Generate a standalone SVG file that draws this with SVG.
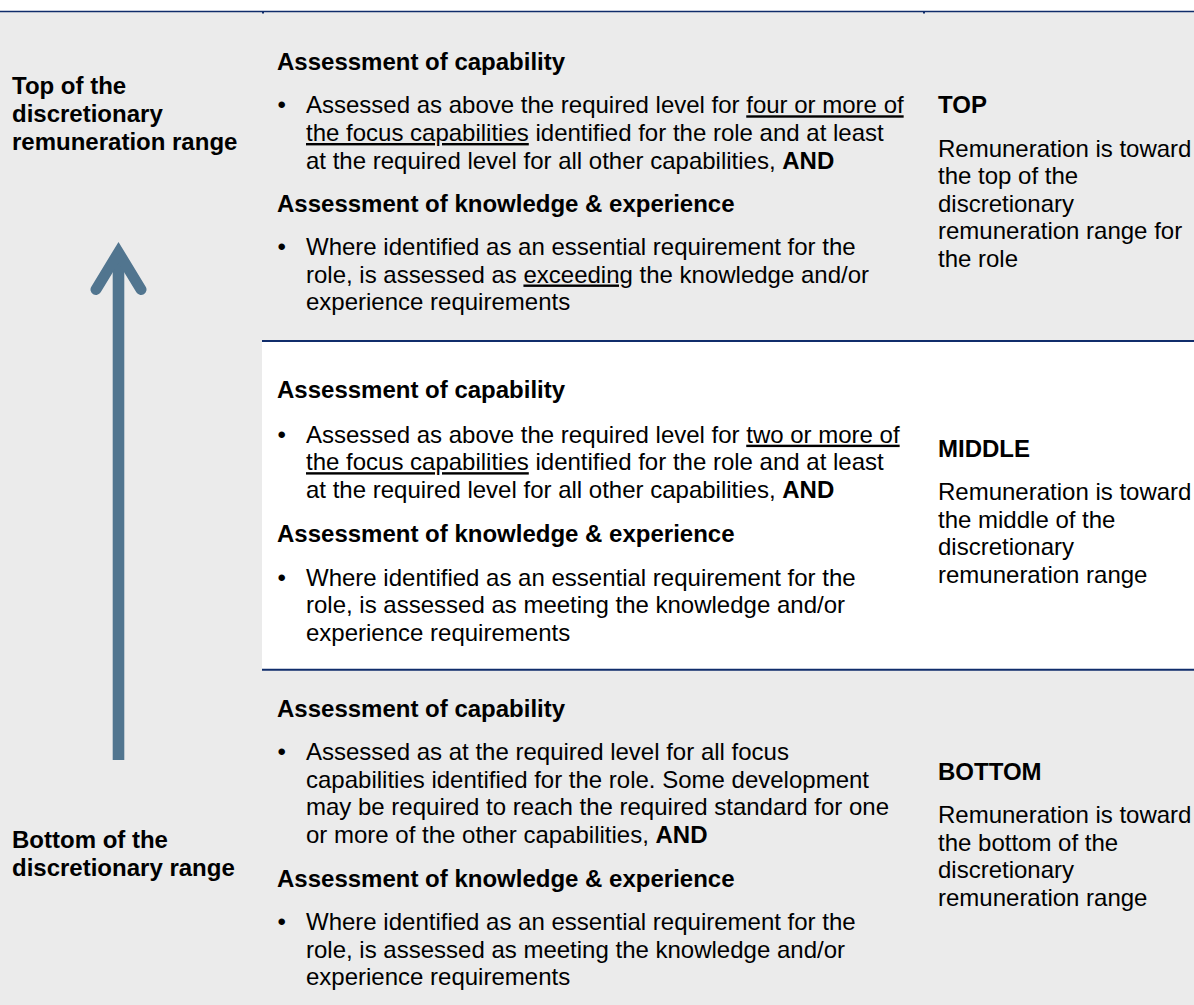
<svg xmlns="http://www.w3.org/2000/svg" width="1194" height="1005" viewBox="0 0 1194 1005">
<style>
text{font-family:"Liberation Sans",Arial,Helvetica,sans-serif;font-size:24px;fill:#000}
.b{font-weight:bold}
.u{text-decoration:underline}
.rule{stroke:#102d6b;stroke-width:2;fill:none}
</style>
<rect x="0" y="0" width="1194" height="1005" fill="#ffffff"/>
<rect x="0" y="12" width="1194" height="993" fill="#ebebeb"/>
<g id="frame">
  <line class="rule" x1="0" y1="11.5" x2="1194" y2="11.5" style="stroke-width:1.5"/>
  <rect x="262" y="12" width="2" height="1.5" fill="#102d6b"/>
  <rect x="923" y="12" width="2" height="1.5" fill="#102d6b"/>
</g>
<g id="band-middle-bg">
  <rect x="262" y="341" width="932" height="329" fill="#ffffff"/>
  <line class="rule" x1="262" y1="341" x2="1194" y2="341"/>
  <line class="rule" x1="262" y1="669.7" x2="1194" y2="669.7"/>
</g>
<g id="label-top">
  <text class="b" x="12" y="94">Top of the</text>
  <text class="b" x="12" y="122">discretionary</text>
  <text class="b" x="12" y="150">remuneration range</text>
</g>
<g id="label-bottom">
  <text class="b" x="12" y="848">Bottom of the</text>
  <text class="b" x="12" y="876">discretionary range</text>
</g>
<g id="connectors">
  <line x1="118.5" y1="256" x2="118.5" y2="760" stroke="#51758f" stroke-width="11.6"/>
  <polyline points="96,289.5 118.5,252.5 141,289.5" fill="none" stroke="#51758f" stroke-width="11" stroke-linecap="round" stroke-linejoin="miter" stroke-miterlimit="10"/>
</g>
<g id="row-top">
  <text class="b" x="277" y="70">Assessment of capability</text>
  <text x="277.5" y="113.3">•</text>
  <text x="306" y="113.3">Assessed as above the required level for <tspan class="u">four or more of</tspan></text>
  <text x="306" y="141"><tspan class="u">the focus capabilities</tspan> identified for the role and at least</text>
  <text x="306" y="168.5">at the required level for all other capabilities, <tspan class="b">AND</tspan></text>
  <text class="b" x="277" y="211.7">Assessment of knowledge &amp; experience</text>
  <text x="277.5" y="255">•</text>
  <text x="306" y="255">Where identified as an essential requirement for the</text>
  <text x="306" y="282.5">role, is assessed as <tspan class="u">exceeding</tspan> the knowledge and/or</text>
  <text x="306" y="310">experience requirements</text>
  <text class="b" x="938" y="113.3">TOP</text>
  <text x="938" y="156.5">Remuneration is toward</text>
  <text x="938" y="184">the top of the</text>
  <text x="938" y="211.5">discretionary</text>
  <text x="938" y="239">remuneration range for</text>
  <text x="938" y="266.5">the role</text>
</g>
<g id="row-middle">
  <text class="b" x="277" y="398.3">Assessment of capability</text>
  <text x="277.5" y="442.7">•</text>
  <text x="306" y="442.7">Assessed as above the required level for <tspan class="u">two or more of</tspan></text>
  <text x="306" y="470.2"><tspan class="u">the focus capabilities</tspan> identified for the role and at least</text>
  <text x="306" y="497.7">at the required level for all other capabilities, <tspan class="b">AND</tspan></text>
  <text class="b" x="277" y="541.7">Assessment of knowledge &amp; experience</text>
  <text x="277.5" y="585.7">•</text>
  <text x="306" y="585.7">Where identified as an essential requirement for the</text>
  <text x="306" y="613.2">role, is assessed as meeting the knowledge and/or</text>
  <text x="306" y="640.7">experience requirements</text>
  <text class="b" x="938" y="457.3">MIDDLE</text>
  <text x="938" y="500">Remuneration is toward</text>
  <text x="938" y="527.5">the middle of the</text>
  <text x="938" y="555">discretionary</text>
  <text x="938" y="582.5">remuneration range</text>
</g>
<g id="row-bottom">
  <text class="b" x="277" y="716.7">Assessment of capability</text>
  <text x="277.5" y="760">•</text>
  <text x="306" y="760">Assessed as at the required level for all focus</text>
  <text x="306" y="787.5">capabilities identified for the role. Some development</text>
  <text x="306" y="815">may be required to reach the required standard for one</text>
  <text x="306" y="842.5">or more of the other capabilities, <tspan class="b">AND</tspan></text>
  <text class="b" x="277" y="886.7">Assessment of knowledge &amp; experience</text>
  <text x="277.5" y="930">•</text>
  <text x="306" y="930">Where identified as an essential requirement for the</text>
  <text x="306" y="957.5">role, is assessed as meeting the knowledge and/or</text>
  <text x="306" y="985">experience requirements</text>
  <text class="b" x="938" y="780">BOTTOM</text>
  <text x="938" y="823.3">Remuneration is toward</text>
  <text x="938" y="850.8">the bottom of the</text>
  <text x="938" y="878.3">discretionary</text>
  <text x="938" y="905.8">remuneration range</text>
</g>
</svg>
